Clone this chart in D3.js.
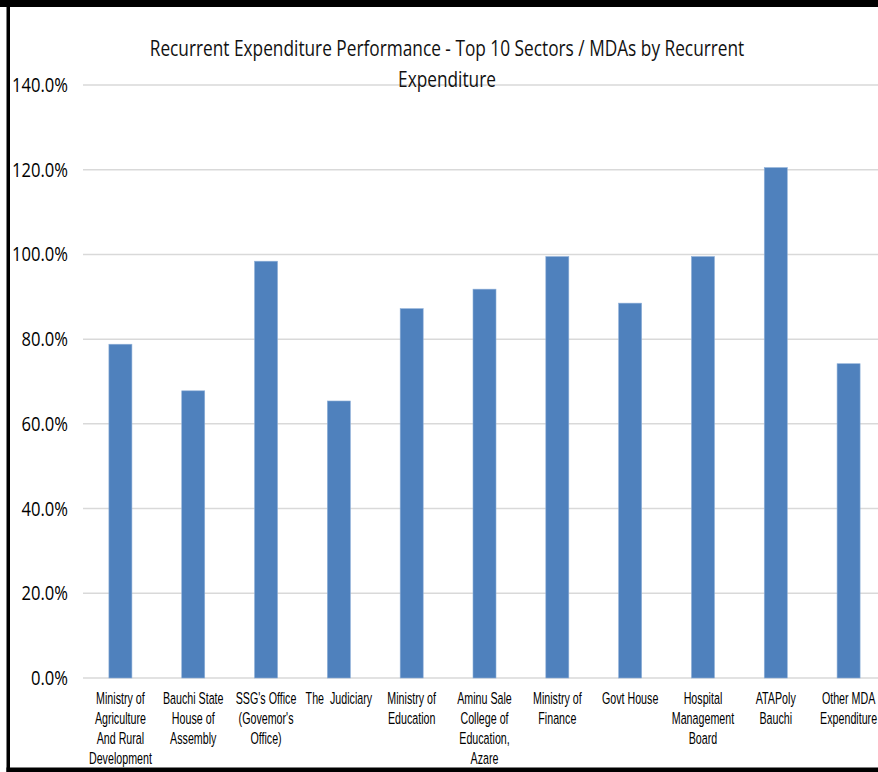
<!DOCTYPE html>
<html>
<head>
<meta charset="utf-8">
<script src="https://cdn.jsdelivr.net/npm/d3@7"></script>
<style>
  html, body { margin: 0; padding: 0; background: #fff; }
  svg { display: block; }
  text { font-family: "Open Sans", "Liberation Sans", sans-serif; }
  text.cat { font-family: "Liberation Sans", Arial, sans-serif; }
</style>
</head>
<body>
<svg id="chart" width="878" height="772"></svg>
<script>
// ---- Data ----
const categories = [
  ["Ministry of", "Agriculture", "And Rural", "Development"],
  ["Bauchi State", "House of", "Assembly"],
  ["SSG's Office", "(Govemor's", "Office)"],
  ["The\u00a0 Judiciary"],
  ["Ministry of", "Education"],
  ["Aminu Sale", "College of", "Education,", "Azare"],
  ["Ministry of", "Finance"],
  ["Govt House"],
  ["Hospital", "Management", "Board"],
  ["ATAPoly", "Bauchi"],
  ["Other MDA", "Expenditure"]
];
const values = [0.788, 0.678, 0.984, 0.654, 0.872, 0.918, 0.995, 0.885, 0.995, 1.205, 0.742];
const yTicks = [0, 0.2, 0.4, 0.6, 0.8, 1.0, 1.2, 1.4];
const titleLines = [
  "Recurrent Expenditure Performance - Top 10 Sectors / MDAs by Recurrent",
  "Expenditure"
];

// ---- Layout ----
const svg = d3.select("#chart");
const plot = { left: 84, right: 885, top: 85, bottom: 678 };

const x = d3.scaleBand()
  .domain(d3.range(categories.length))
  .range([plot.left, plot.right])
  .paddingInner(0.684)
  .paddingOuter(0.342);

const y = d3.scaleLinear().domain([0, 1.4]).range([plot.bottom, plot.top]);
const fmt = d3.format(".1%");

function measure(str, size, cls) {
  const t = svg.append("text").attr("class", cls || null).attr("font-size", size).style("white-space", "pre").text(str);
  const w = t.node().getComputedTextLength();
  t.remove();
  return w;
}
const sTick = 56 / measure("120.0%", 19.5);
const catSize = 16.5;
const sCat = 63 / measure("Development", catSize, "cat");
const sTitle = 595 / measure(titleLines[0], 22);

// gridlines
svg.append("g").selectAll("line")
  .data(yTicks)
  .join("line")
  .attr("x1", plot.left - 1)
  .attr("x2", 878)
  .attr("y1", d => y(d))
  .attr("y2", d => y(d))
  .attr("stroke", "#d9d9d9")
  .attr("stroke-width", 1.5);

// bars
svg.append("g").selectAll("rect")
  .data(values)
  .join("rect")
  .attr("x", (d, i) => x(i))
  .attr("width", x.bandwidth())
  .attr("y", d => y(d))
  .attr("height", d => y(0) - y(d))
  .attr("fill", "#4f81bd")
  .attr("stroke", "#8fb0d8")
  .attr("stroke-width", 0.6);

// y tick labels
svg.append("g").selectAll("text")
  .data(yTicks)
  .join("text")
  .attr("transform", d => `translate(68,${y(d) + 7}) scale(${sTick},1)`)
  .attr("text-anchor", "end")
  .attr("font-size", 19.5)
  .attr("fill", "#000")
  .text(d => fmt(d));

// x category labels (one text per line)
const catLines = categories.flatMap((lines, i) => lines.map((s, j) => ({ s, i, j })));
svg.append("g").selectAll("text")
  .data(catLines)
  .join("text")
  .attr("class", "cat")
  .attr("transform", d => `translate(${x(d.i) + x.bandwidth() / 2},${704 + d.j * 20}) scale(${sCat},1)`)
  .attr("text-anchor", "middle")
  .attr("font-size", catSize)
  .attr("fill", "#000")
  .style("white-space", "pre")
  .text(d => d.s);

// title
svg.append("g").selectAll("text")
  .data(titleLines)
  .join("text")
  .attr("transform", (d, i) => `translate(447,${i === 0 ? 56 : 87}) scale(${sTitle},1)`)
  .attr("text-anchor", "middle")
  .attr("font-size", 22)
  .attr("fill", "#111")
  .text(d => d);

// frame
svg.append("rect").attr("x", 0).attr("y", 0).attr("width", 878).attr("height", 7).attr("fill", "#000");
svg.append("rect").attr("x", 6.5).attr("y", 0).attr("width", 3.5).attr("height", 772).attr("fill", "#000");
svg.append("rect").attr("x", 6.5).attr("y", 767.5).attr("width", 872).attr("height", 4.5).attr("fill", "#000");
</script>
</body>
</html>
